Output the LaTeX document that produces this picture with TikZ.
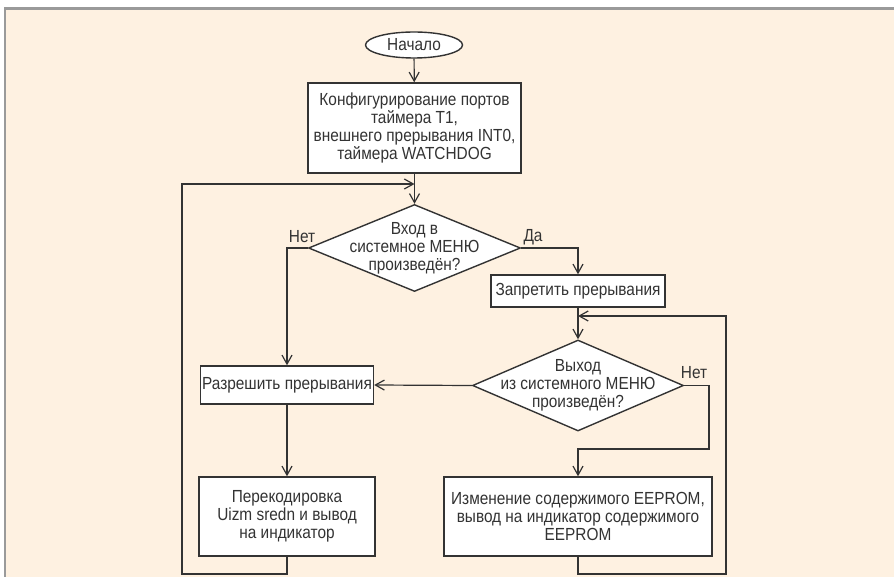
\documentclass[tikz,border=0pt]{standalone}
\usepackage{fontspec}
\setmainfont{Liberation Sans}[FakeStretch=0.88]
\usetikzlibrary{shapes.geometric,arrows.meta}
\definecolor{cream}{HTML}{FEF1E1}
\definecolor{framegray}{HTML}{9A9A9A}
\definecolor{ink}{HTML}{333333}

\begin{document}
\begin{tikzpicture}[x=1pt, y=-1pt,
    every node/.style={font=\fontsize{17.5}{18}\selectfont, text=ink, align=center, inner sep=0pt},
    box/.style={draw=ink, line width=1.4pt, fill=white, rectangle},
    cond/.style={draw=ink, line width=1.4pt, fill=white, diamond},
    link/.style={draw=ink, line width=1.2pt, -{Straight Barb[length=9pt, width=10pt]}}]
    % panel
    \useasboundingbox (0,0) rectangle (894,577);
    \fill[white] (0,0) rectangle (894,577);
    \fill[cream] (5,9) rectangle (894,577);
    \draw[framegray, line width=2.6pt] (5,577) -- (5,8.5) -- (894,8.5);
    % blocks
    \node[draw=ink, line width=1.4pt, fill=white, ellipse, minimum width=97pt, minimum height=26pt] (start) at (414,45) {Начало};
    \node[box, minimum width=213pt, minimum height=90pt] (config) at (414.5,128) {Конфигурирование портов\\таймера Т1,\\внешнего прерывания INT0,\\таймера WATCHDOG};
    \node[cond, minimum width=212pt, minimum height=87pt] (menuin) at (414.5,248) {};
    \node (menuinText) at (menuin) {Вход в\\системное МЕНЮ\\произведён?};
    \node[box, minimum width=174pt, minimum height=32pt] (disable) at (578,291) {Запретить прерывания};
    \node[cond, minimum width=211pt, minimum height=91pt] (menuout) at (578,385.5) {};
    \node (menuoutText) at (menuout) {Выход\\из системного МЕНЮ\\произведён?};
    \node[box, minimum width=173pt, minimum height=38pt] (enable) at (287,385) {Разрешить прерывания};
    \node[box, minimum width=176pt, minimum height=79pt] (recode) at (287,516.5) {Перекодировка\\Uizm sredn и вывод\\на индикатор};
    \node[box, minimum width=268pt, minimum height=79pt] (eeprom) at (578,516.5) {Изменение содержимого EEPROM,\\вывод на индикатор содержимого\\EEPROM};
    % branch labels
    \node (no1) at (302,237) {Нет};
    \node (yes1) at (533,237) {Да};
    \node (no2) at (694,373) {Нет};
    % corner points
    \coordinate (mrgA) at (414.5,184);
    \coordinate (botL) at (182,574);
    \coordinate (topL) at (182,184);
    \coordinate (nR) at (709,449);
    \coordinate (mrgB) at (578,316);
    \coordinate (botR) at (726,574);
    \coordinate (topR) at (726,316);
    % connectors
    \draw[link] (start) -- (config);
    \draw[link] (config) -- (menuin);
    \draw[link] (menuin.west) -| (enable.north);
    \draw[link] (menuin.east) -| (disable.north);
    \draw[link] (disable) -- (menuout);
    \draw[link] (menuout.west) -- (enable.east);
    \draw[link] (enable) -- (recode);
    \draw[link] (menuout.east) -| (nR) -| (eeprom.north);
    \draw[link] (recode.south) |- (botL) -- (topL) -- (mrgA);
    \draw[link] (eeprom.south) |- (botR) -- (topR) -- (mrgB);
\end{tikzpicture}
\end{document}
